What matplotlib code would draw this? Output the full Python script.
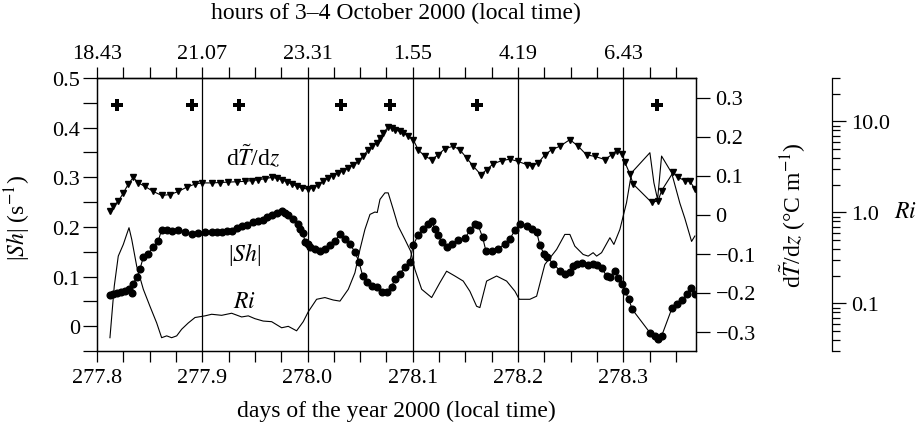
import matplotlib
matplotlib.use("Agg")
import matplotlib.pyplot as plt
from matplotlib.ticker import MultipleLocator, NullFormatter, LogLocator, FixedLocator

plt.rcParams['font.family'] = ['Liberation Serif', 'DejaVu Serif']
plt.rcParams['mathtext.fontset'] = 'stix'

# |Sh| (s^-1), dots
sh_day = [277.8123, 277.8152, 277.8190, 277.8228, 277.8266, 277.8304, 277.8330, 277.8342,
          277.8377, 277.8408, 277.8440, 277.8487, 277.8535, 277.8582, 277.8614, 277.8662,
          277.8709, 277.8772, 277.8836, 277.8899, 277.8962, 277.9026, 277.9089, 277.9137,
          277.9184, 277.9232, 277.9279, 277.9327, 277.9374, 277.9422, 277.9484, 277.9532,
          277.9579, 277.9612, 277.9659, 277.9707, 277.9754, 277.9785, 277.9817, 277.9864,
          277.9912, 277.9928, 277.9959, 277.9975, 278.0007, 278.0023, 278.0070, 278.0118,
          278.0165, 278.0213, 278.0260, 278.0308, 278.0355, 278.0403, 278.0450, 278.0488,
          278.0523, 278.0561, 278.0609, 278.0656, 278.0704, 278.0751, 278.0799, 278.0830,
          278.0877, 278.0925, 278.0972, 278.1004, 278.1051, 278.1099, 278.1146, 278.1179,
          278.1210, 278.1241, 278.1274, 278.1321, 278.1368, 278.1431, 278.1495, 278.1542,
          278.1590, 278.1621, 278.1663, 278.1694, 278.1748, 278.1811, 278.1875, 278.1922,
          278.1970, 278.2017, 278.2081, 278.2128, 278.2176, 278.2207, 278.2245, 278.2276,
          278.2333, 278.2397, 278.2444, 278.2492, 278.2523, 278.2558, 278.2603, 278.2666,
          278.2713, 278.2746, 278.2793, 278.2840, 278.2872, 278.2919, 278.2951, 278.2989,
          278.3014, 278.3052, 278.3084, 278.3252, 278.3299, 278.3330, 278.3363, 278.3463,
          278.3505, 278.3553, 278.3600, 278.3639, 278.3679]
sh_val = [0.063, 0.065, 0.066, 0.068, 0.071, 0.074, 0.067, 0.085,
          0.099, 0.115, 0.139, 0.146, 0.160, 0.172, 0.194, 0.193,
          0.191, 0.193, 0.190, 0.185, 0.188, 0.190, 0.190, 0.189,
          0.190, 0.191, 0.192, 0.198, 0.202, 0.204, 0.210, 0.211,
          0.214, 0.220, 0.225, 0.228, 0.233, 0.229, 0.225, 0.216,
          0.205, 0.196, 0.188, 0.169, 0.165, 0.159, 0.155, 0.152,
          0.155, 0.163, 0.171, 0.186, 0.176, 0.166, 0.149, 0.130,
          0.102, 0.089, 0.081, 0.079, 0.069, 0.069, 0.079, 0.096,
          0.106, 0.119, 0.130, 0.163, 0.184, 0.196, 0.206, 0.211,
          0.196, 0.183, 0.169, 0.159, 0.166, 0.173, 0.177, 0.193,
          0.206, 0.203, 0.179, 0.152, 0.151, 0.156, 0.166, 0.176,
          0.193, 0.206, 0.202, 0.196, 0.190, 0.163, 0.146, 0.139,
          0.126, 0.112, 0.106, 0.109, 0.121, 0.125, 0.128, 0.124,
          0.126, 0.124, 0.118, 0.101, 0.099, 0.112, 0.098, 0.084,
          0.071, 0.054, 0.034, -0.013, -0.020, -0.026, -0.020, 0.037,
          0.044, 0.052, 0.064, 0.076, 0.064]

# dT/dz (degC m^-1), triangles
dt_day = [277.8123, 277.8155, 277.8202, 277.8250, 277.8297, 277.8345, 277.8392, 277.8456,
          277.8535, 277.8614, 277.8693, 277.8772, 277.8852, 277.8931, 277.8994, 277.9089,
          277.9168, 277.9247, 277.9327, 277.9405, 277.9469, 277.9532, 277.9595, 277.9659,
          277.9707, 277.9754, 277.9802, 277.9849, 277.9896, 277.9944, 278.0007, 278.0054,
          278.0102, 278.0149, 278.0197, 278.0244, 278.0292, 278.0339, 278.0387, 278.0434,
          278.0481, 278.0529, 278.0576, 278.0616, 278.0656, 278.0688, 278.0719, 278.0766,
          278.0801, 278.0830, 278.0877, 278.0909, 278.0956, 278.1004, 278.1051, 278.1115,
          278.1179, 278.1241, 278.1305, 278.1384, 278.1447, 278.1511, 278.1574, 278.1647,
          278.1701, 278.1764, 278.1843, 278.1922, 278.2001, 278.2081, 278.2128, 278.2191,
          278.2254, 278.2318, 278.2397, 278.2492, 278.2571, 278.2650, 278.2729, 278.2824,
          278.2888, 278.2935, 278.2989, 278.3014, 278.3062, 278.3093, 278.3268, 278.3330,
          278.3363, 278.3473, 278.3521, 278.3584, 278.3632, 278.3679]
dt_val = [0.008, 0.021, 0.034, 0.055, 0.078, 0.095, 0.081, 0.072,
          0.059, 0.049, 0.051, 0.059, 0.070, 0.078, 0.081, 0.081,
          0.082, 0.083, 0.084, 0.085, 0.087, 0.089, 0.092, 0.095,
          0.093, 0.089, 0.084, 0.078, 0.073, 0.068, 0.065, 0.069,
          0.076, 0.085, 0.094, 0.100, 0.106, 0.112, 0.119, 0.127,
          0.136, 0.150, 0.166, 0.175, 0.183, 0.196, 0.209, 0.224,
          0.222, 0.217, 0.213, 0.209, 0.201, 0.192, 0.166, 0.149,
          0.141, 0.153, 0.169, 0.175, 0.166, 0.145, 0.124, 0.102,
          0.115, 0.130, 0.138, 0.142, 0.136, 0.128, 0.124, 0.132,
          0.153, 0.166, 0.175, 0.192, 0.175, 0.153, 0.149, 0.141,
          0.153, 0.164, 0.155, 0.134, 0.104, 0.078, 0.031, 0.035,
          0.061, 0.108, 0.095, 0.087, 0.085, 0.066]

# Ri (log scale), thin line
ri_day = [277.8123, 277.8164, 277.8202, 277.8250, 277.8282, 277.8304, 277.8330, 277.8377,
          277.8440, 277.8503, 277.8567, 277.8614, 277.8662, 277.8709, 277.8757, 277.8804,
          277.8867, 277.8931, 277.9026, 277.9089, 277.9184, 277.9279, 277.9374, 277.9437,
          277.9500, 277.9579, 277.9659, 277.9754, 277.9817, 277.9896, 277.9959, 278.0007,
          278.0086, 278.0165, 278.0244, 278.0308, 278.0387, 278.0450, 278.0498, 278.0545,
          278.0593, 278.0640, 278.0662, 278.0688, 278.0735, 278.0766, 278.0814, 278.0861,
          278.0925, 278.0979, 278.1020, 278.1084, 278.1179, 278.1257, 278.1321, 278.1400,
          278.1479, 278.1542, 278.1606, 278.1637, 278.1701, 278.1796, 278.1891, 278.1970,
          278.2011, 278.2112, 278.2176, 278.2254, 278.2366, 278.2444, 278.2492, 278.2539,
          278.2618, 278.2666, 278.2713, 278.2746, 278.2793, 278.2872, 278.2910, 278.2967,
          278.3030, 278.3078, 278.3252, 278.3290, 278.3325, 278.3363, 278.3458, 278.3537,
          278.3584, 278.3648, 278.3679]
ri_val = [0.042, 0.155, 0.331, 0.445, 0.573, 0.679, 0.505, 0.257,
          0.143, 0.093, 0.061, 0.042, 0.044, 0.042, 0.044, 0.052,
          0.061, 0.070, 0.073, 0.076, 0.074, 0.078, 0.071, 0.073,
          0.068, 0.064, 0.063, 0.054, 0.056, 0.050, 0.063, 0.081,
          0.111, 0.116, 0.109, 0.106, 0.143, 0.217, 0.392, 0.650,
          0.951, 1.01, 0.997, 1.39, 1.64, 1.64, 1.08, 0.707,
          0.505, 0.376, 0.236, 0.143, 0.116, 0.169, 0.226, 0.200,
          0.176, 0.136, 0.093, 0.090, 0.176, 0.200, 0.176, 0.136,
          0.111, 0.111, 0.120, 0.268, 0.392, 0.573, 0.573, 0.426,
          0.345, 0.331, 0.361, 0.331, 0.361, 0.527, 0.445, 0.650,
          1.28, 2.73, 4.53, 2.12, 1.39, 4.16, 2.73, 1.26,
          0.86, 0.48, 0.55]

plus_day = [277.819, 277.890, 277.935, 278.032, 278.078, 278.161, 278.332]
plus_sh = [0.445] * len(plus_day)

day_ticks = [277.8, 277.9, 278.0, 278.1, 278.2, 278.3]
day_labels = ['277.8', '277.9', '278.0', '278.1', '278.2', '278.3']
hour_labels = ['18.43', '21.07', '23.31', '1.55', '4.19', '6.43']
sh_ticks = [0, 0.1, 0.2, 0.3, 0.4, 0.5]
sh_labels = ['0', '0.1', '0.2', '0.3', '0.4', '0.5']
dt_ticks = [-0.3, -0.2, -0.1, 0, 0.1, 0.2, 0.3]
dt_labels = ['\u22120.3', '\u22120.2', '\u22120.1', '0', '0.1', '0.2', '0.3']
ri_ticks = [0.1, 1, 10]
ri_labels = ['0.1', '1.0', '10.0']

W, H = 921, 427
fig = plt.figure(figsize=(W / 100, H / 100), dpi=100)
ax = fig.add_axes([97 / W, 1 - 352 / H, 599 / W, 273 / H])
ax2 = ax.twinx()
ax3 = ax.twinx()

fs = 16     # tick labels
fl = 17     # axis labels and annotations

    # vertical day lines
for d in day_ticks[1:]:
    ax.axvline(d, color='black', lw=0.9, zorder=1)

ax.plot(sh_day, sh_val, '-o', color='black', lw=0.8, ms=4.8, zorder=3)
ax.plot(plus_day, plus_sh, 'P', color='black', ms=8.5, mew=0, zorder=3)
ax2.plot(dt_day, dt_val, '-v', color='black', lw=0.8, ms=4.4, zorder=3)
ax3.plot(ri_day, ri_val, '-', color='black', lw=0.8)

    # main axis (|Sh|)
ax.set_xlim(277.8, 278.369)
ax.set_ylim(-0.05, 0.5)
ax.set_xticks(day_ticks, labels=day_labels)
ax.xaxis.set_minor_locator(MultipleLocator(0.025))
ax.set_yticks(sh_ticks, labels=sh_labels)
ax.yaxis.set_minor_locator(MultipleLocator(0.05))
ax.tick_params(axis='y', which='both', direction='out', length=10, width=0.9,
               labelsize=fs, pad=2)
ax.tick_params(axis='x', which='both', direction='out', length=8, width=0.9,
               labelsize=fs, pad=4)
for s in ax.spines.values():
    s.set_linewidth(0.9)

    # top hour axis
top = ax.secondary_xaxis('top')
top.set_xticks(day_ticks, labels=hour_labels)
top.xaxis.set_minor_locator(MultipleLocator(0.025))
top.tick_params(which='both', direction='out', length=8, width=0.9, labelsize=fs, pad=3)
top.spines['top'].set_linewidth(0.9)

    # dT/dz axis
ax2.set_ylim(-0.35, 0.35)
ax2.set_yticks(dt_ticks, labels=dt_labels)
ax2.tick_params(axis='y', direction='out', length=10, width=0.9, labelsize=fs, pad=4)
for s in ax2.spines.values():
    s.set_linewidth(0.9)

    # Ri axis
ax3.set_yscale('log')
ax3.set_ylim(0.03, 30)
ax3.spines['right'].set_position(('axes', 1.227))
ax3.spines['right'].set_linewidth(0.9)
for k in ['left', 'top', 'bottom']:
    ax3.spines[k].set_visible(False)
ax3.yaxis.set_major_locator(FixedLocator(ri_ticks))
ax3.set_yticklabels(ri_labels)
ax3.yaxis.set_minor_locator(LogLocator(base=10, subs=range(2, 10)))
ax3.yaxis.set_minor_formatter(NullFormatter())
ax3.tick_params(axis='y', which='major', direction='out', length=10, width=0.9,
                labelsize=fs, pad=4)
ax3.tick_params(axis='y', which='minor', direction='out', length=6, width=0.9)

    # labels
fig.text(18 / W, 1 - 218 / H, r'|$Sh$| (s$^{-1}$)', rotation=90, ha='center',
         va='center', fontsize=fl)
fig.text(793 / W, 1 - 215 / H, r'd$\tilde{T}$/d$z$ (°C m$^{-1}$)', rotation=90,
         ha='center', va='center', fontsize=fl)
fig.text(905 / W, 1 - 213 / H, r'$Ri$', ha='center', va='center', fontsize=fl)
fig.text(396 / W, 1 - 13 / H, 'hours of 3\u20134 October 2000 (local time)',
         ha='center', va='center', fontsize=fl)
fig.text(396 / W, 1 - 411 / H, 'days of the year 2000 (local time)',
         ha='center', va='center', fontsize=fl)

ax.text(277.948, 0.343, r'd$\tilde{T}$/d$z$', ha='center', va='center', fontsize=fl)
ax.text(277.9405, 0.146, r'|$Sh$|', ha='center', va='center', fontsize=fl)
ax.text(277.9405, 0.049, r'$Ri$', ha='center', va='center', fontsize=fl)

fig.savefig('out.png', dpi=100)
